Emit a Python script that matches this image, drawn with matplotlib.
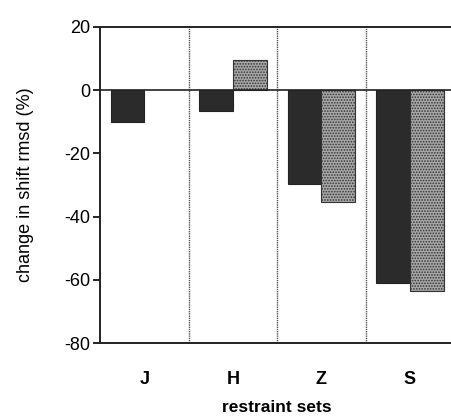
import matplotlib.pyplot as plt
import numpy as np

plt.rcParams['font.family'] = ['Liberation Sans', 'DejaVu Sans']
plt.rcParams['axes.unicode_minus'] = False
plt.rcParams['hatch.color'] = '#4a4a4a'
plt.rcParams['hatch.linewidth'] = 0.8

# restraint sets and the two series (dark / stippled)
sets = ['J', 'H', 'Z', 'S']
dark_vals = [-10, -6.5, -29.8, -61]
gray_vals = [0, 9.5, -35.3, -63.5]

fig = plt.figure(figsize=(4.51, 4.20), dpi=100)
ax = fig.add_axes([0.222, 0.183, 0.785, 0.753])

x = np.arange(len(sets))
w = 0.38
ax.bar(x - w / 2, dark_vals, w, color='#2b2b2b', edgecolor='#222222', linewidth=0.8)
gray_x = [xi + w / 2 for xi, v in zip(x, gray_vals) if v != 0]
gray_y = [v for v in gray_vals if v != 0]
ax.bar(gray_x, gray_y, w, color='#a8a8a8', edgecolor='#333333',
       linewidth=0.8, hatch='......')

# group separators and zero line
for b in x[:-1] + 0.5:
    ax.axvline(b, color='#555555', lw=1.0, ls=(0, (1, 0.6)))
ax.axhline(0, color='#222222', lw=1.2)

ax.set_xlim(-0.5, 3.5)
ax.set_ylim(-80, 20)
ax.set_yticks([20, 0, -20, -40, -60, -80])
ax.set_xticks(x)
ax.set_xticklabels(sets, fontsize=13, fontweight='bold')
ax.tick_params(axis='x', length=0, pad=20)
ax.tick_params(axis='y', length=5, width=1.2, labelsize=13, pad=2)
for s in ['left', 'bottom', 'top']:
    ax.spines[s].set_linewidth(1.4)
    ax.spines[s].set_color('#222222')
ax.spines['right'].set_visible(False)

ax.set_ylabel('change in shift rmsd (%)', fontsize=13, labelpad=22)
ax.set_xlabel('restraint sets', fontsize=12.5, fontweight='bold', labelpad=9)

fig.savefig('out.png', dpi=100)
